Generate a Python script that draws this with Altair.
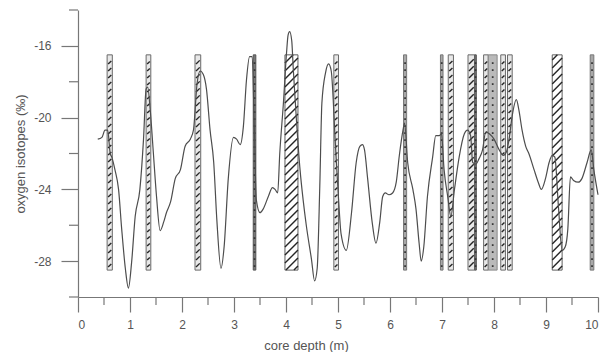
import altair as alt
import pandas as pd
import numpy as np

# ---- data ----
depth = [0.38, 0.46, 0.52, 0.57, 0.62, 0.65, 0.71, 0.78, 0.84, 0.91, 0.97, 1.03, 1.10, 1.19, 1.26,
         1.31, 1.34, 1.39, 1.45, 1.51, 1.58, 1.65, 1.70, 1.78, 1.87, 1.97, 2.06, 2.16, 2.22, 2.29,
         2.35, 2.41, 2.47, 2.54, 2.61, 2.67, 2.75, 2.81, 2.89, 2.99, 3.05, 3.12, 3.18, 3.24, 3.30,
         3.35, 3.39, 3.43, 3.50, 3.56, 3.66, 3.74, 3.79, 3.84, 3.88, 3.95, 4.01, 4.04, 4.07, 4.11,
         4.14, 4.20, 4.27, 4.33, 4.39, 4.49, 4.55, 4.60, 4.65, 4.69, 4.76, 4.82, 4.87, 4.95, 5.01,
         5.06, 5.16, 5.26, 5.35, 5.42, 5.47, 5.51, 5.57, 5.66, 5.73, 5.80, 5.86, 5.91, 5.98, 6.05,
         6.12, 6.18, 6.25, 6.28, 6.34, 6.44, 6.50, 6.56, 6.60, 6.65, 6.72, 6.82, 6.88, 6.95, 6.99,
         7.04, 7.11, 7.17, 7.24, 7.33, 7.43, 7.49, 7.55, 7.59, 7.65, 7.71, 7.78, 7.84, 7.91, 8.00,
         8.10, 8.18, 8.24, 8.29, 8.35, 8.43, 8.48, 8.54, 8.61, 8.67, 8.77, 8.85, 8.91, 8.99, 9.06,
         9.12, 9.17, 9.24, 9.31, 9.37, 9.42, 9.47, 9.53, 9.62, 9.69, 9.79, 9.87, 9.92, 10.00]
isotope = [-21.2, -21.1, -20.7, -20.7, -22.0, -22.2, -22.9, -24.0, -26.2, -28.4, -29.5, -28.1, -25.5, -24.0, -21.2,
           -18.4, -18.3, -19.6, -22.0, -24.4, -26.3, -25.8, -25.3, -24.7, -23.4, -22.9, -21.6, -21.2, -20.7, -18.1,
           -17.4, -17.6, -18.4, -20.7, -22.5, -25.7, -28.4, -27.2, -23.4, -21.1, -21.2, -21.5, -20.5, -17.9, -16.6,
           -16.6, -20.5, -24.6, -25.3, -25.1, -24.4, -23.9, -24.0, -24.2, -22.0, -19.2, -16.4, -15.4, -15.2, -15.7,
           -17.3, -20.1, -22.9, -24.6, -26.0, -27.9, -29.1, -28.4, -23.8, -19.2, -17.5, -17.0, -17.4, -21.5, -24.5,
           -26.5, -27.4, -25.3, -22.5, -21.6, -21.5, -21.8, -23.4, -25.9, -27.0, -25.9, -24.4, -24.2, -24.3, -24.2,
           -23.6, -22.1, -20.7, -20.3, -22.5, -24.0, -25.1, -27.0, -28.0, -27.2, -24.4, -22.2, -21.0, -21.0, -20.9,
           -22.9, -24.4, -25.5, -24.0, -22.2, -20.9, -20.7, -21.0, -22.5, -22.6, -22.3, -21.8, -20.8, -20.9, -21.2,
           -21.8, -22.1, -21.9, -21.2, -19.9, -19.0, -19.6, -20.7, -21.6, -22.0, -22.9, -23.6, -24.0, -23.4, -22.5,
           -22.1, -22.2, -25.0, -27.4, -27.2, -26.2, -23.3, -23.5, -23.6, -23.4, -22.5, -21.8, -22.9, -24.3]

hatch_start = [0.56, 1.31, 2.25, 4.92, 7.12, 7.50, 7.80, 8.13, 8.26]
hatch_end = [0.66, 1.40, 2.36, 5.01, 7.22, 7.63, 7.89, 8.22, 8.35]
wide_start = [3.98, 9.12]
wide_end = [4.23, 9.31]
dot_start = [3.37, 6.26, 6.97, 7.63, 7.89, 9.85]
dot_end = [3.42, 6.32, 7.02, 7.66, 8.06, 9.92]
dot_shade = ["dark", "mid", "mid", "dark", "light", "mid"]
band_bottom, band_top = -28.5, -16.5

x_major = list(range(0, 11))
x_minor = [i + 0.5 for i in range(10)]
y_major = [-28, -24, -20, -16]
y_minor = [-30, -26, -22, -18, -14]

# ---- geometry of the plot area ----
W, H = 520, 287
XMIN, XMAX, YMIN, YMAX = 0, 10, -30, -14
xpx = W / (XMAX - XMIN)
ypx = H / (YMAX - YMIN)

# rectangles
rows = []
for a, b in zip(hatch_start, hatch_end):
    rows.append({"x0": a, "x1": b, "kind": "hatch"})
for a, b in zip(wide_start, wide_end):
    rows.append({"x0": a, "x1": b, "kind": "wide"})
for a, b, s in zip(dot_start, dot_end, dot_shade):
    rows.append({"x0": a, "x1": b, "kind": s})
rects = pd.DataFrame(rows)
rects["y0"] = band_bottom
rects["y1"] = band_top

# hatch dashes for narrow bars
segs = []
for a, b in zip(hatch_start, hatch_end):
    wpx = (b - a) * xpx
    y = band_bottom + 3 / ypx
    while y + (wpx - 1) / ypx < band_top - 2 / ypx:
        segs.append({"xa": a + 1.0 / xpx, "xb": b - 1.0 / xpx, "ya": y, "yb": y + (wpx - 2) / ypx})
        y += 7 / ypx
# diagonal lines for wide bars
for a, b in zip(wide_start, wide_end):
    wpx = (b - a) * xpx
    hpx = (band_top - band_bottom) * ypx
    c = -wpx + 4
    while c < hpx:
        xs = max(0.0, -c)
        xe = min(wpx, hpx - c)
        if xe > xs + 0.5:
            segs.append({"xa": a + xs / xpx, "xb": a + xe / xpx,
                         "ya": band_bottom + (xs + c) / ypx, "yb": band_bottom + (xe + c) / ypx})
        c += 8
segs = pd.DataFrame(segs)

# dots for stippled bars
dots = []
for a, b in zip(dot_start, dot_end):
    y = band_bottom + 4 / ypx
    while y < band_top - 2 / ypx:
        dots.append({"xc": (a + b) / 2, "yc": y})
        y += 7 / ypx
dots = pd.DataFrame(dots)

line_df = pd.DataFrame({"depth": depth, "iso": isotope})

xscale = alt.Scale(domain=[XMIN, XMAX], nice=False, zero=False)
yscale = alt.Scale(domain=[YMIN, YMAX], nice=False, zero=False)

AX = "#777777"
xaxis = alt.Axis(title="core depth (m)", values=x_major, format="d", tickSize=15,
                 labelOverlap=False, labelPadding=7, titleX=228, titleY=48, titleBaseline="middle")
yaxis = alt.Axis(title="oxygen isotopes (‰)", values=y_major,
                 labelExpr="'' + datum.value", tickSize=17,
                 labelOverlap=False, labelPadding=10, titleX=-58, titleBaseline="middle")

rect_layer = alt.Chart(rects).mark_rect(strokeWidth=1).encode(
    x=alt.X("x0:Q", scale=xscale, axis=xaxis),
    x2="x1:Q",
    y=alt.Y("y0:Q", scale=yscale, axis=yaxis),
    y2="y1:Q",
    fill=alt.Color("kind:N", scale=alt.Scale(domain=["hatch", "wide", "dark", "mid", "light"],
                                             range=["#e8e8e8", "#ffffff", "#777777", "#a8a8a8", "#bababa"]),
                   legend=None),
    stroke=alt.Stroke("kind:N", scale=alt.Scale(domain=["hatch", "wide", "dark", "mid", "light"],
                                                range=["#6a6a6a", "#5e5e5e", "#555555", "#777777", "#888888"]),
                      legend=None),
)

hatch_layer = alt.Chart(segs).mark_rule(color="#262626", strokeWidth=1.4).encode(
    x=alt.X("xa:Q", scale=xscale, axis=xaxis),
    x2="xb:Q",
    y=alt.Y("ya:Q", scale=yscale, axis=yaxis),
    y2="yb:Q",
)

dot_layer = alt.Chart(dots).mark_square(color="#333333", size=3, opacity=1).encode(
    x=alt.X("xc:Q", scale=xscale, axis=xaxis),
    y=alt.Y("yc:Q", scale=yscale, axis=yaxis),
)

line_layer = alt.Chart(line_df).mark_line(color="#4d4d4d", strokeWidth=1.2, interpolate="monotone").encode(
    x=alt.X("depth:Q", scale=xscale, axis=xaxis),
    y=alt.Y("iso:Q", scale=yscale, axis=yaxis),
)

xminor_layer = alt.Chart(pd.DataFrame({"v": x_minor})).mark_rule(color=AX, strokeWidth=1.2).encode(
    x=alt.X("v:Q", scale=xscale, axis=xaxis),
    y=alt.value(H), y2=alt.value(H + 8),
)
yminor_layer = alt.Chart(pd.DataFrame({"v": y_minor})).mark_rule(color=AX, strokeWidth=1.2).encode(
    y=alt.Y("v:Q", scale=yscale, axis=yaxis),
    x=alt.value(0), x2=alt.value(-9),
)

chart = alt.layer(rect_layer, hatch_layer, dot_layer, line_layer, xminor_layer, yminor_layer).properties(
    width=W, height=H,
    autosize=alt.AutoSizeParams(type="none"),
    padding={"left": 70, "top": 2, "right": 7, "bottom": 55},
).configure_view(stroke=None).configure_axis(
    grid=False,
    labelFont="Liberation Sans", labelFontSize=12, labelColor="#555555",
    titleFont="Liberation Sans", titleFontSize=13, titleColor="#555555", titleFontWeight="normal",
    domainColor=AX, tickColor=AX, domainWidth=1.2, tickWidth=1.2,
)

chart.save("out.html", embed_options={"renderer": "svg", "actions": False})
